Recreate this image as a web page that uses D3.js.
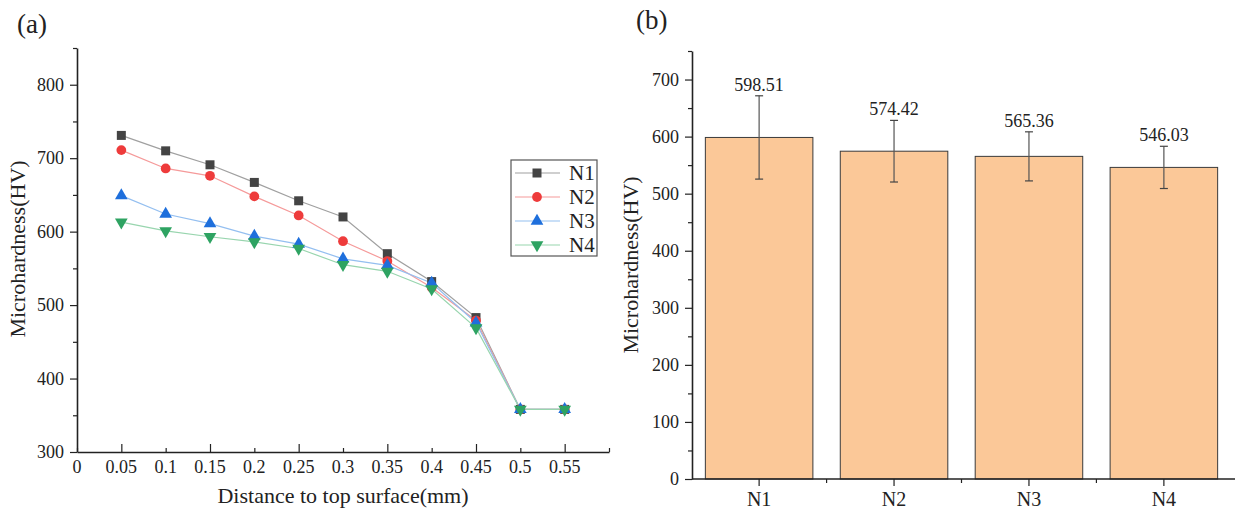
<!DOCTYPE html>
<html>
<head>
<meta charset="utf-8">
<script src="https://cdn.jsdelivr.net/npm/d3@7"></script>
<style>
  body { margin: 0; background: #fff; }
  text { font-family: "Liberation Serif", "Times New Roman", serif; fill: #222; }
</style>
</head>
<body>
<svg id="viewer"></svg>
<script>
// data, left panel (a)
var depth = [0.05, 0.1, 0.15, 0.2, 0.25, 0.3, 0.35, 0.4, 0.45, 0.5, 0.55];
var n1 = [731, 710, 691, 667, 642, 620, 570, 532, 483, 358, 358];
var n2 = [711, 686, 676, 648, 622, 587, 560, 524, 479, 358, 358];
var n3 = [649, 624, 611, 594, 583, 563, 554, 530, 476, 358, 358];
var n4 = [613, 601, 593, 586, 577, 555, 546, 522, 469, 358, 358];
var seriesNames = ['N1', 'N2', 'N3', 'N4'];
var xTickLabels = ['0', '0.05', '0.1', '0.15', '0.2', '0.25', '0.3', '0.35', '0.4', '0.45', '0.5', '0.55'];

// data, right panel (b)
var samples = ['N1', 'N2', 'N3', 'N4'];
var meanHV = [598.51, 574.42, 565.36, 546.03];
var errHV = [73, 54, 43, 37];

var viewer = d3.select('#viewer')
  .attr('width', 1241)
  .attr('height', 520);

// ---------- panel (a) ----------
var ax = d3.scaleLinear().domain([0, 0.6]).range([77, 609]);
var ay = d3.scaleLinear().domain([300, 850]).range([452, 48]);

var styles = [
  {mark: '#444', line: '#a0a0a0', sym: d3.symbolSquare, size: 81, rot: 0},
  {mark: '#ee3b3b', line: '#f59a9a', sym: d3.symbolCircle, size: 75, rot: 0},
  {mark: '#1e6fdc', line: '#94bff0', sym: d3.symbolTriangle, size: 70, rot: 0},
  {mark: '#2ea362', line: '#98d5ae', sym: d3.symbolTriangle, size: 70, rot: 180}
];
var allSeries = [n1, n2, n3, n4];

var panelA = viewer.append('g');

// axes
var yAxisA = d3.axisLeft(ay).tickValues(d3.range(300, 801, 100)).tickSize(7).tickPadding(6).tickSizeOuter(0);
panelA.append('g').attr('transform', 'translate(77,0)').call(yAxisA)
  .call(function(g){ g.select('.domain').attr('stroke', '#222').attr('stroke-width', 1.6); });
panelA.append('g').attr('transform', 'translate(77,0)')
  .call(d3.axisLeft(ay).tickValues(d3.range(350, 851, 100)).tickSize(4).tickFormat('').tickSizeOuter(0))
  .call(function(g){ g.select('.domain').remove(); });

var xTicks = d3.range(0, 13).map(function(i){ return i * 0.05; });
var xAxisA = d3.axisTop(ax).tickValues(xTicks).tickFormat('').tickSizeOuter(0)
  .tickSize(0);
var xa = panelA.append('g').attr('transform', 'translate(0,452)').call(xAxisA);
xa.select('.domain').attr('stroke', '#222').attr('stroke-width', 1.6);
xa.selectAll('.tick line')
  .attr('y2', function(d, i){ return (i % 2 == 1) ? -8 : -4; });
// labels below the axis
panelA.selectAll('.xlabA')
  .data(xTickLabels)
  .enter().append('text')
    .attr('class', 'xlabA')
    .attr('x', function(d){ return ax(+d); })
    .attr('y', 473)
    .attr('text-anchor', 'middle')
    .attr('font-size', 18)
    .text(function(d){ return d; });

panelA.selectAll('.tick text').attr('font-size', 18).attr('fill', '#222');
panelA.selectAll('.tick line').attr('stroke', '#222').attr('stroke-width', 1.2);

// lines and markers
var lineGen = d3.line()
  .x(function(d, i){ return ax(depth[i]); })
  .y(function(d){ return ay(d); });

allSeries.forEach(function(vals, s){
  panelA.append('path')
    .datum(vals)
    .attr('d', lineGen)
    .attr('fill', 'none')
    .attr('stroke', styles[s].line)
    .attr('stroke-width', 1.2);
});
allSeries.forEach(function(vals, s){
  var st = styles[s];
  panelA.selectAll('.mk' + s)
    .data(vals)
    .enter().append('path')
      .attr('class', 'mk' + s)
      .attr('d', d3.symbol().type(st.sym).size(st.size))
      .attr('transform', function(d, i){
        return 'translate(' + ax(depth[i]) + ',' + ay(d) + ') rotate(' + st.rot + ')';
      })
      .attr('fill', st.mark);
});

// legend
var leg = panelA.append('g');
leg.append('rect')
  .attr('x', 511).attr('y', 160).attr('width', 86).attr('height', 96)
  .attr('fill', '#fff').attr('stroke', '#555').attr('stroke-width', 1.2);
seriesNames.forEach(function(name, s){
  var st = styles[s];
  var yy = 173 + s * 24;
  leg.append('line').attr('x1', 515).attr('x2', 560).attr('y1', yy).attr('y2', yy)
    .attr('stroke', st.line).attr('stroke-width', 1.2);
  leg.append('path')
    .attr('d', d3.symbol().type(st.sym).size(st.size))
    .attr('transform', 'translate(537,' + yy + ') rotate(' + st.rot + ')')
    .attr('fill', st.mark);
  leg.append('text').attr('x', 569).attr('y', yy + 7)
    .attr('font-size', 21).text(name);
});

// titles
panelA.append('text')
  .attr('x', 343).attr('y', 503)
  .attr('text-anchor', 'middle').attr('font-size', 22)
  .text('Distance to top surface(mm)');
panelA.append('text')
  .attr('transform', 'translate(25,249) rotate(-90)')
  .attr('text-anchor', 'middle').attr('font-size', 22)
  .text('Microhardness(HV)');
panelA.append('text')
  .attr('x', 17).attr('y', 33).attr('font-size', 27)
  .text('(a)');

// ---------- panel (b) ----------
var bx = d3.scaleBand().domain(samples).range([692, 1231]).paddingInner(0.203).paddingOuter(0.099);
var by = d3.scaleLinear().domain([0, 750]).range([479, 51]);

var panelB = viewer.append('g');

panelB.selectAll('.bar')
  .data(meanHV)
  .enter().append('rect')
    .attr('class', 'bar')
    .attr('x', function(d, i){ return bx(samples[i]); })
    .attr('y', function(d){ return by(d); })
    .attr('width', bx.bandwidth())
    .attr('height', function(d){ return by(0) - by(d); })
    .attr('fill', '#fbc898')
    .attr('stroke', '#3a3a3a')
    .attr('stroke-width', 1);

// error bars
var eb = panelB.selectAll('.err')
  .data(meanHV)
  .enter().append('g')
    .attr('class', 'err')
    .attr('transform', function(d, i){ return 'translate(' + (bx(samples[i]) + bx.bandwidth() / 2) + ',0)'; });
eb.append('line')
  .attr('y1', function(d, i){ return by(d + errHV[i]); })
  .attr('y2', function(d, i){ return by(d - errHV[i]); })
  .attr('stroke', '#555').attr('stroke-width', 1.2);
eb.append('line')
  .attr('x1', -4).attr('x2', 4)
  .attr('y1', function(d, i){ return by(d + errHV[i]); })
  .attr('y2', function(d, i){ return by(d + errHV[i]); })
  .attr('stroke', '#444').attr('stroke-width', 1.2);
eb.append('line')
  .attr('x1', -4).attr('x2', 4)
  .attr('y1', function(d, i){ return by(d - errHV[i]); })
  .attr('y2', function(d, i){ return by(d - errHV[i]); })
  .attr('stroke', '#444').attr('stroke-width', 1.2);
eb.append('text')
  .attr('y', function(d, i){ return by(d + errHV[i]) - 5; })
  .attr('text-anchor', 'middle').attr('font-size', 18)
  .text(function(d){ return d.toFixed(2); });

// axes
var yb = panelB.append('g').attr('transform', 'translate(692,0)')
  .call(d3.axisLeft(by).tickValues(d3.range(0, 701, 100)).tickSize(7).tickPadding(6).tickSizeOuter(0));
yb.select('.domain').attr('stroke', '#222').attr('stroke-width', 1.6);
panelB.append('g').attr('transform', 'translate(692,0)')
  .call(d3.axisLeft(by).tickValues(d3.range(50, 751, 100)).tickSize(4).tickFormat('').tickSizeOuter(0))
  .call(function(g){ g.select('.domain').remove(); });

var xb = panelB.append('g').attr('transform', 'translate(0,479)')
  .call(d3.axisBottom(bx).tickSize(7).tickSizeOuter(0).tickPadding(6));
xb.select('.domain').attr('stroke', '#222').attr('stroke-width', 1.6)
  .attr('d', 'M692,0H1235');
// minor ticks between categories
var bstep = bx.step();
panelB.selectAll('.minB')
  .data(samples.slice(1))
  .enter().append('line')
    .attr('class', 'minB')
    .attr('x1', function(d){ return bx(d) - bstep * 0.1015; })
    .attr('x2', function(d){ return bx(d) - bstep * 0.1015; })
    .attr('y1', 479).attr('y2', 483)
    .attr('stroke', '#222').attr('stroke-width', 1.2);

panelB.selectAll('.tick text').attr('font-size', 18).attr('fill', '#222');
xb.selectAll('.tick text').attr('font-size', 20);
panelB.selectAll('.tick line').attr('stroke', '#222').attr('stroke-width', 1.2);

panelB.append('text')
  .attr('transform', 'translate(638,265) rotate(-90)')
  .attr('text-anchor', 'middle').attr('font-size', 22)
  .text('Microhardness(HV)');
panelB.append('text')
  .attr('x', 636).attr('y', 29).attr('font-size', 27)
  .text('(b)');
</script>
</body>
</html>
